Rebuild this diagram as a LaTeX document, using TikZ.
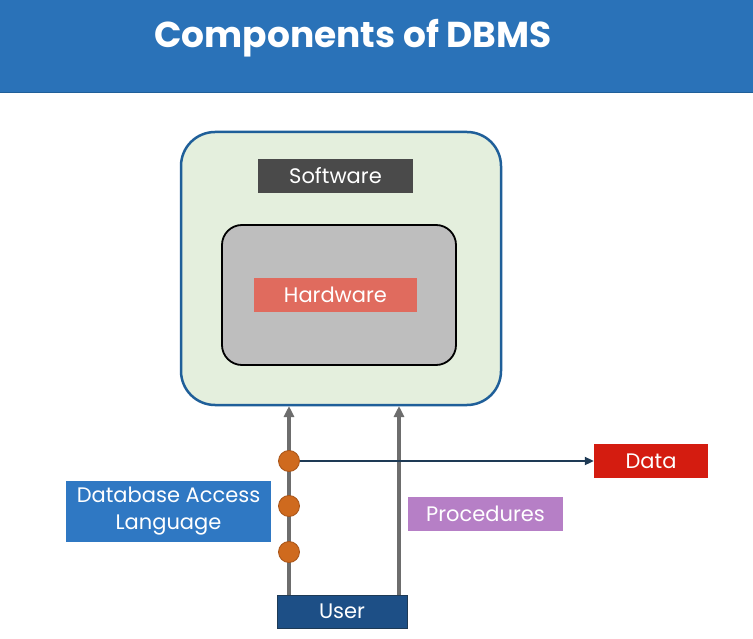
\documentclass[tikz,border=0pt]{standalone}
\usepackage{fontspec}
\setmainfont{Poppins}
\usetikzlibrary{arrows.meta}
\definecolor{hdr}{HTML}{2A72B8}
\definecolor{outerfill}{HTML}{E4EFDD}
\definecolor{outerdraw}{HTML}{1F5F99}
\definecolor{softfill}{HTML}{4A4A4A}
\definecolor{innerfill}{HTML}{BEBEBE}
\definecolor{hardfill}{HTML}{E06B5E}
\definecolor{linegray}{HTML}{6D6D6D}
\definecolor{dotfill}{HTML}{CF6A1E}
\definecolor{dotdraw}{HTML}{A85418}
\definecolor{navy}{HTML}{1E3A55}
\definecolor{datafill}{HTML}{D41C10}
\definecolor{procfill}{HTML}{B67FC6}
\definecolor{dalfill}{HTML}{2F78C3}
\definecolor{userfill}{HTML}{1D4F86}
\tikzset{
  label box/.style={inner sep=0pt, text=white, font=\fontsize{21}{27}\selectfont, align=center},
  uparrow/.style={draw=linegray, line width=3.5pt, -{Triangle[length=11pt,width=10pt]}},
  dot/.style={circle, fill=dotfill, draw=dotdraw, line width=0.8pt, minimum size=21pt, inner sep=0pt}
}
\begin{document}
\begin{tikzpicture}[x=1pt,y=-1pt]
\useasboundingbox (0,0) rectangle (753,639);
\fill[white] (0,0) rectangle (753,639);
% header
\fill[hdr] (0,0) rectangle (753,93);
\draw[outerdraw, line width=1pt] (0,93) -- (753,93);
\node[text=white, font=\fontsize{36}{40}\selectfont\bfseries] (title) at (353,38) {Components of DBMS};
% outer box
\draw[draw=outerdraw, fill=outerfill, line width=2.5pt, rounded corners=34pt] (181,132) rectangle (501,405);
\coordinate (outerbottomL) at (289,406);
\coordinate (outerbottomR) at (399,406);
% software
\node[label box, fill=softfill, minimum width=155pt, minimum height=34pt] (software) at (335.5,176) {Software};
% inner box
\draw[draw=black, fill=innerfill, line width=1.8pt, rounded corners=20pt] (222,225) rectangle (456,365);
\node[label box, fill=hardfill, minimum width=163pt, minimum height=34pt] (hardware) at (335.5,295) {Hardware};
% user
\node[label box, fill=userfill, draw=navy, line width=0.6pt, minimum width=130pt, minimum height=33pt] (user) at (342,611.5) {User};
\coordinate (userL) at (289,595);
\coordinate (userR) at (399,595);
\draw[uparrow] (userL) -- (outerbottomL);
\draw[uparrow] (userR) -- (outerbottomR);
% data
\node[label box, fill=datafill, minimum width=114pt, minimum height=34pt] (data) at (651,461) {Data};
% dots
\node[dot] (d1) at (289,461) {};
\node[dot] (d2) at (289,506) {};
\node[dot] (d3) at (289,552) {};
\draw[navy, line width=2pt, -{Triangle[length=9pt,width=8pt]}] (d1.east) -- (data.west);
% procedures
\node[label box, fill=procfill, minimum width=155pt, minimum height=34pt] (proc) at (485.5,514) {Procedures};
% DAL
\node[label box, fill=dalfill, minimum width=205pt, minimum height=61pt] (dal) at (168.5,511.5) {\raisebox{-3pt}{\parbox{200pt}{\centering Database Access\\Language}}};
\end{tikzpicture}
\end{document}
